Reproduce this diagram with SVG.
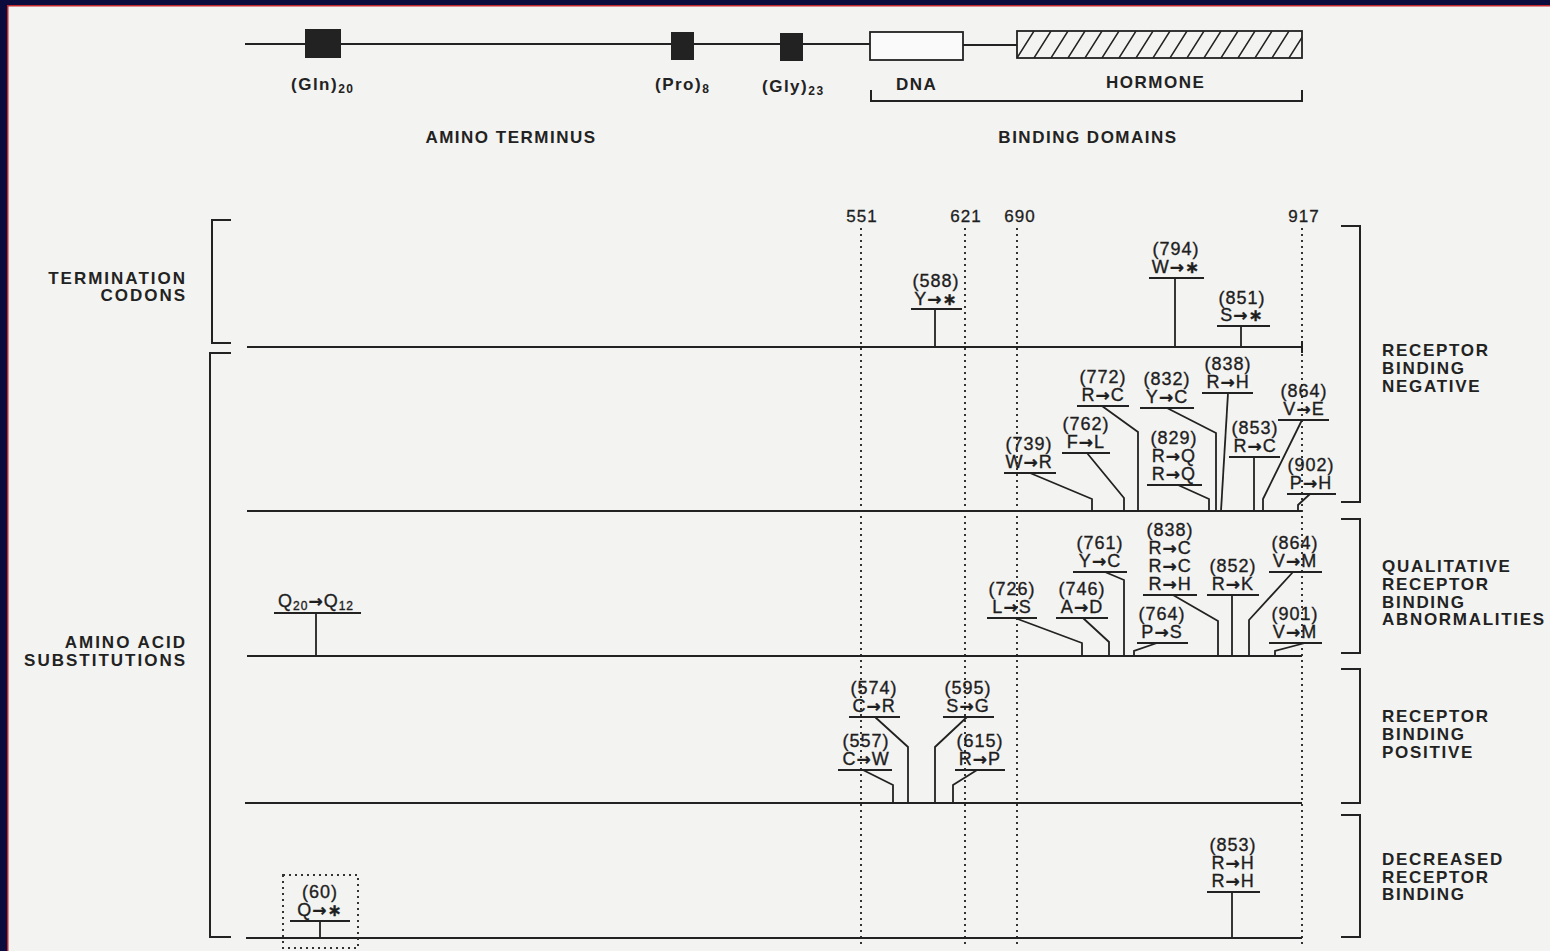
<svg xmlns="http://www.w3.org/2000/svg" width="1550" height="951" viewBox="0 0 1550 951">
<defs>
<pattern id="hatch" patternUnits="userSpaceOnUse" x="1017" y="31" width="17" height="27">
<path d="M-17 27 L0 0 M0 27 L17 0 M17 27 L34 0" stroke="#222" stroke-width="1.5"/>
</pattern>
<style>
.ln{stroke:#222;stroke-width:2;fill:none}
.cn{stroke:#222;stroke-width:1.8;fill:none}
.dot{stroke:#333;stroke-width:2;stroke-dasharray:2 4;fill:none}
.m{font-family:"Liberation Sans",Arial,sans-serif;font-size:18px;fill:#1e1e1e;stroke:#1e1e1e;stroke-width:0.35px;text-anchor:middle;letter-spacing:1px}
.ar{font-family:"DejaVu Sans",sans-serif;font-weight:bold;font-size:17px}
.n{font-family:"Liberation Sans",Arial,sans-serif;font-size:17px;fill:#1e1e1e;stroke:#1e1e1e;stroke-width:0.3px;text-anchor:middle;letter-spacing:1px}
.cat{font-family:"Liberation Sans",Arial,sans-serif;font-size:17px;font-weight:bold;fill:#222;letter-spacing:1.7px}
.lab{font-family:"Liberation Sans",Arial,sans-serif;font-size:17px;font-weight:bold;fill:#222;letter-spacing:2px;text-anchor:end}
.top{font-family:"Liberation Sans",Arial,sans-serif;font-size:17px;font-weight:bold;fill:#222;letter-spacing:1.5px}
.sub{font-size:12px}
</style>
</defs>
<rect x="0" y="0" width="1550" height="951" fill="#f3f3f1"/>
<rect x="0" y="0" width="1550" height="5" fill="#0b0b3d"/>
<rect x="0" y="0" width="7" height="951" fill="#0b0b3d"/>
<rect x="7" y="5" width="1.5" height="946" fill="#c0282d"/>
<rect x="7" y="5" width="1543" height="1.5" fill="#c0282d"/>

<g id="protein-map">
<path class="ln" d="M245 44 H870 M963 45 H1017" stroke-width="1.6"/>
<rect x="305" y="29" width="36" height="29" fill="#222"/>
<rect x="671" y="32" width="23" height="28" fill="#222"/>
<rect x="780" y="33" width="23" height="28" fill="#222"/>
<rect x="870" y="32" width="93" height="28" fill="#fafafa" stroke="#222" stroke-width="1.8"/>
<rect x="1017" y="31" width="285" height="27" fill="url(#hatch)" stroke="#222" stroke-width="1.8"/>
<path class="ln" d="M871 90 V101 H1302 V90" stroke-width="1.6"/>
<text class="top" x="291" y="90">(Gln)<tspan class="sub" dy="3">20</tspan></text>
<text class="top" x="655" y="90">(Pro)<tspan class="sub" dy="3">8</tspan></text>
<text class="top" x="762" y="92">(Gly)<tspan class="sub" dy="3">23</tspan></text>
<text class="top" x="896" y="90">DNA</text>
<text class="top" x="1106" y="88">HORMONE</text>
<text class="top" x="511" y="143" text-anchor="middle">AMINO TERMINUS</text>
<text class="top" x="1088" y="143" text-anchor="middle">BINDING DOMAINS</text>
</g>

<g id="axis">
<path class="dot" d="M861 228 V945 M965 228 V945 M1017 228 V945 M1302 228 V945"/>
<text class="n" x="862" y="222">551</text>
<text class="n" x="966" y="222">621</text>
<text class="n" x="1020" y="222">690</text>
<text class="n" x="1304" y="222">917</text>
<path class="ln" d="M247 347 H1302 M1302 341 V353"/>
<path class="ln" d="M247 511 H1302"/>
<path class="ln" d="M247 656 H1302"/>
<path class="ln" d="M245 803 H1302"/>
<path class="ln" d="M246 938 H1302"/>
</g>

<g id="left-brackets">
<path class="ln" d="M231 220 H212 V343 H231"/>
<path class="ln" d="M231 353 H210 V937 H231"/>
<text class="lab" x="187" y="284">TERMINATION</text>
<text class="lab" x="187" y="301">CODONS</text>
<text class="lab" x="187" y="648">AMINO ACID</text>
<text class="lab" x="187" y="666">SUBSTITUTIONS</text>
</g>

<g id="right-brackets">
<path class="ln" d="M1341 226 H1360 V502 H1341"/>
<path class="ln" d="M1341 519 H1360 V653 H1341"/>
<path class="ln" d="M1341 669 H1360 V803 H1341"/>
<path class="ln" d="M1341 815 H1360 V937 H1341"/>
<text class="cat" x="1382" y="356">RECEPTOR</text>
<text class="cat" x="1382" y="374">BINDING</text>
<text class="cat" x="1382" y="392">NEGATIVE</text>
<text class="cat" x="1382" y="572">QUALITATIVE</text>
<text class="cat" x="1382" y="590">RECEPTOR</text>
<text class="cat" x="1382" y="608">BINDING</text>
<text class="cat" x="1382" y="625">ABNORMALITIES</text>
<text class="cat" x="1382" y="722">RECEPTOR</text>
<text class="cat" x="1382" y="740">BINDING</text>
<text class="cat" x="1382" y="758">POSITIVE</text>
<text class="cat" x="1382" y="865">DECREASED</text>
<text class="cat" x="1382" y="883">RECEPTOR</text>
<text class="cat" x="1382" y="900">BINDING</text>
</g>

<!-- termination codons -->
<g id="m588"><text class="m" x="936" y="287">(588)</text><text class="m" x="936" y="305">Y<tspan class="ar">→∗</tspan></text><path class="ln" d="M911 309 H962"/></g>
<g id="m794"><text class="m" x="1176" y="255">(794)</text><text class="m" x="1176" y="273">W<tspan class="ar">→∗</tspan></text><path class="ln" d="M1149 278 H1204"/></g>
<g id="m851"><text class="m" x="1242" y="304">(851)</text><text class="m" x="1242" y="321">S<tspan class="ar">→∗</tspan></text><path class="ln" d="M1217 326 H1270"/></g>

<!-- receptor binding negative -->
<g id="m739"><text class="m" x="1029" y="450">(739)</text><text class="m" x="1029" y="468">W<tspan class="ar">→</tspan>R</text><path class="ln" d="M1004 473 H1056"/></g>
<g id="m762"><text class="m" x="1086" y="430">(762)</text><text class="m" x="1086" y="448">F<tspan class="ar">→</tspan>L</text><path class="ln" d="M1062 453 H1110"/></g>
<g id="m772"><text class="m" x="1103" y="383">(772)</text><text class="m" x="1103" y="401">R<tspan class="ar">→</tspan>C</text><path class="ln" d="M1077 406 H1129"/></g>
<g id="m832"><text class="m" x="1167" y="385">(832)</text><text class="m" x="1167" y="403">Y<tspan class="ar">→</tspan>C</text><path class="ln" d="M1140 408 H1194"/></g>
<g id="m838"><text class="m" x="1228" y="370">(838)</text><text class="m" x="1228" y="388">R<tspan class="ar">→</tspan>H</text><path class="ln" d="M1202 393 H1253"/></g>
<g id="m829"><text class="m" x="1174" y="444">(829)</text><text class="m" x="1174" y="462">R<tspan class="ar">→</tspan>Q</text><text class="m" x="1174" y="480">R<tspan class="ar">→</tspan>Q</text><path class="ln" d="M1147 485 H1202"/></g>
<g id="m853"><text class="m" x="1255" y="434">(853)</text><text class="m" x="1255" y="452">R<tspan class="ar">→</tspan>C</text><path class="ln" d="M1229 457 H1280"/></g>
<g id="m864"><text class="m" x="1304" y="397">(864)</text><text class="m" x="1304" y="415">V<tspan class="ar">→</tspan>E</text><path class="ln" d="M1278 420 H1329"/></g>
<g id="m902"><text class="m" x="1311" y="471">(902)</text><text class="m" x="1311" y="489">P<tspan class="ar">→</tspan>H</text><path class="ln" d="M1287 494 H1336"/></g>

<!-- qualitative -->
<g id="q20"><text class="m" x="316" y="607">Q<tspan class="sub" dy="3">20</tspan><tspan class="ar" dy="-3">→</tspan>Q<tspan class="sub" dy="3">12</tspan></text><path class="ln" d="M274 613 H361"/></g>
<g id="m726"><text class="m" x="1012" y="595">(726)</text><text class="m" x="1012" y="613">L<tspan class="ar">→</tspan>S</text><path class="ln" d="M987 618 H1037"/></g>
<g id="m746"><text class="m" x="1082" y="595">(746)</text><text class="m" x="1082" y="613">A<tspan class="ar">→</tspan>D</text><path class="ln" d="M1056 618 H1108"/></g>
<g id="m761"><text class="m" x="1100" y="549">(761)</text><text class="m" x="1100" y="567">Y<tspan class="ar">→</tspan>C</text><path class="ln" d="M1073 572 H1127"/></g>
<g id="m764"><text class="m" x="1162" y="620">(764)</text><text class="m" x="1162" y="638">P<tspan class="ar">→</tspan>S</text><path class="ln" d="M1137 643 H1188"/></g>
<g id="m838b"><text class="m" x="1170" y="536">(838)</text><text class="m" x="1170" y="554">R<tspan class="ar">→</tspan>C</text><text class="m" x="1170" y="572">R<tspan class="ar">→</tspan>C</text><text class="m" x="1170" y="590">R<tspan class="ar">→</tspan>H</text><path class="ln" d="M1143 595 H1197"/></g>
<g id="m852"><text class="m" x="1233" y="572">(852)</text><text class="m" x="1233" y="590">R<tspan class="ar">→</tspan>K</text><path class="ln" d="M1207 595 H1259"/></g>
<g id="m864b"><text class="m" x="1295" y="549">(864)</text><text class="m" x="1295" y="567">V<tspan class="ar">→</tspan>M</text><path class="ln" d="M1269 572 H1322"/></g>
<g id="m901"><text class="m" x="1295" y="620">(901)</text><text class="m" x="1295" y="638">V<tspan class="ar">→</tspan>M</text><path class="ln" d="M1269 643 H1322"/></g>

<!-- positive -->
<g id="m574"><text class="m" x="874" y="694">(574)</text><text class="m" x="874" y="712">C<tspan class="ar">→</tspan>R</text><path class="ln" d="M849 717 H900"/></g>
<g id="m557"><text class="m" x="866" y="747">(557)</text><text class="m" x="866" y="765">C<tspan class="ar">→</tspan>W</text><path class="ln" d="M838 770 H892"/></g>
<g id="m595"><text class="m" x="968" y="694">(595)</text><text class="m" x="968" y="712">S<tspan class="ar">→</tspan>G</text><path class="ln" d="M943 717 H994"/></g>
<g id="m615"><text class="m" x="980" y="747">(615)</text><text class="m" x="980" y="765">R<tspan class="ar">→</tspan>P</text><path class="ln" d="M955 770 H1005"/></g>

<!-- decreased -->
<g id="m853b"><text class="m" x="1233" y="851">(853)</text><text class="m" x="1233" y="869">R<tspan class="ar">→</tspan>H</text><text class="m" x="1233" y="887">R<tspan class="ar">→</tspan>H</text><path class="ln" d="M1207 892 H1260"/></g>
<g id="m60"><rect x="283" y="875" width="75" height="73" class="dot"/><text class="m" x="320" y="898">(60)</text><text class="m" x="320" y="916">Q<tspan class="ar">→∗</tspan></text><path class="ln" d="M290 921 H350"/></g>

<g id="connectors">
<path class="cn" d="M935 309 V347"/>
<path class="cn" d="M1175 278 V347"/>
<path class="cn" d="M1241 326 V347"/>
<path class="cn" d="M1030 473 L1092 499 V511"/>
<path class="cn" d="M1087 453 L1124 498 V511"/>
<path class="cn" d="M1102 406 L1138 432 V511"/>
<path class="cn" d="M1167 408 L1216 433 V511"/>
<path class="cn" d="M1228 393 L1221 511"/>
<path class="cn" d="M1178 485 L1209 499 V511"/>
<path class="cn" d="M1254 457 V511"/>
<path class="cn" d="M1302 420 L1263 499 V511"/>
<path class="cn" d="M1310 494 L1298 505 V511"/>
<path class="cn" d="M316 613 V656"/>
<path class="cn" d="M1015 618 L1082 643 V656"/>
<path class="cn" d="M1083 618 L1109 642 V656"/>
<path class="cn" d="M1105 572 L1124 580 V656"/>
<path class="cn" d="M1157 643 L1134 651 V656"/>
<path class="cn" d="M1173 595 L1218 621 V656"/>
<path class="cn" d="M1232 595 V656"/>
<path class="cn" d="M1293 572 L1249 620 V656"/>
<path class="cn" d="M1305 643 L1275 651 V656"/>
<path class="cn" d="M875 717 L908 747 V803"/>
<path class="cn" d="M863 770 L893 785 V803"/>
<path class="cn" d="M967 717 L935 747 V803"/>
<path class="cn" d="M977 770 L953 785 V803"/>
<path class="cn" d="M1232 892 V938"/>
<path class="cn" d="M320 921 V938"/>
</g>
</svg>
